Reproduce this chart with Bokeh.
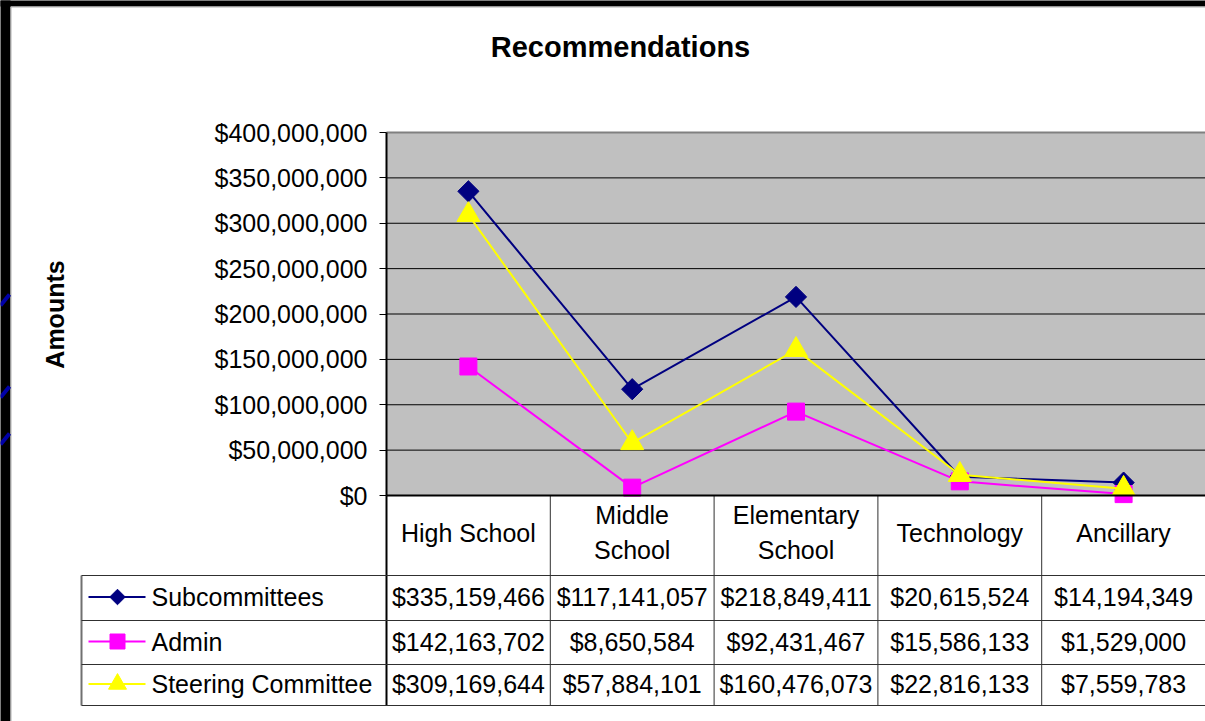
import numpy as np
from bokeh.plotting import figure
from bokeh.models import Range1d, NumeralTickFormatter, FixedTicker, LinearAxis
from bokeh.core.properties import value
from bokeh.embed import file_html
from bokeh.resources import INLINE

# ---------------- data ----------------
title_text = "Recommendations"
y_label = "Amounts"
categories = ["High School", "Middle School", "Elementary School", "Technology", "Ancillary"]
category_labels = ["High School", "Middle\nSchool", "Elementary\nSchool", "Technology", "Ancillary"]
series_names = ["Subcommittees", "Admin", "Steering Committee"]
subcommittees = [335159466, 117141057, 218849411, 20615524, 14194349]
admin = [142163702, 8650584, 92431467, 15586133, 1529000]
steering = [309169644, 57884101, 160476073, 22816133, 7559783]
y_ticks = [0, 50000000, 100000000, 150000000, 200000000, 250000000, 300000000, 350000000, 400000000]

# ---------------- layout constants (pixels) ----------------
FONT = "Liberation Sans"
W, H = 1205, 721
PLOT_L, PLOT_T, PLOT_B = 386, 132, 495
ncat = len(categories)
UNIT = (W - PLOT_L) / ncat                 # pixels per category
Y_MAX = y_ticks[-1]
K = Y_MAX / (PLOT_B - PLOT_T)              # dollars per pixel
ROW_EDGES = [0, 80, 125, 169, 210]         # table rows, pixels below plot bottom
LEGEND_L = 81


def px_x(px):
    return (px - PLOT_L) / UNIT


def px_y(py):
    return py - PLOT_B


styles = [
    dict(color="#000080", marker="square", angle=np.pi / 4, size=15, lsize=11),
    dict(color="#FF00FF", marker="square", angle=0.0, size=17, lsize=15),
    dict(color="#FFFF00", marker="triangle", angle=0.0, size=23, lsize=18),
]
series_values = [subcommittees, admin, steering]

p = figure(width=W, height=H,
           x_range=Range1d(px_x(0), ncat),
           y_range=Range1d(-(H - PLOT_B) * K, Y_MAX + PLOT_T * K),
           x_axis_location=None, y_axis_location=None,
           output_backend="svg", toolbar_location=None, min_border=0)
p.extra_y_ranges = {"tbl": Range1d(H - PLOT_B, -PLOT_B)}
p.xgrid.visible = False
p.ygrid.visible = False
p.outline_line_color = None
p.background_fill_color = "white"
p.border_fill_color = "white"

# slide frame (black edges with blue stripes)
p.quad(left=[px_x(-20), px_x(-20)], right=[px_x(10), px_x(W + 20)],
       bottom=[px_y(H + 20), px_y(6)], top=[px_y(-20), px_y(-20)],
       y_range_name="tbl", fill_color="black", line_color=None)
p.segment(x0=[px_x(10.5), px_x(10.5)], y0=[px_y(6.5), px_y(6.5)],
          x1=[px_x(10.5), px_x(W + 20)], y1=[px_y(H + 20), px_y(6.5)],
          y_range_name="tbl", line_color="#B0B0B0", line_width=1)
stripe_y = [305, 397, 444]
p.segment(x0=[px_x(0)] * 3, y0=[px_y(v) for v in stripe_y],
          x1=[px_x(9)] * 3, y1=[px_y(v - 11) for v in stripe_y],
          y_range_name="tbl", line_color="#0000A8", line_width=4)

# plot area background
p.quad(left=[0], right=[ncat], bottom=[0], top=[Y_MAX], fill_color="#C0C0C0", line_color=None)
# grid lines
inner = y_ticks[1:-1]
p.segment(x0=[0] * len(inner), y0=inner, x1=[ncat] * len(inner), y1=inner,
          line_color="black", line_width=1)
p.segment(x0=[0], y0=[Y_MAX], x1=[ncat], y1=[Y_MAX], line_color="#808080", line_width=2)

# y axis
yax = LinearAxis(ticker=FixedTicker(ticks=y_ticks),
                 formatter=NumeralTickFormatter(format="$0,0"),
                 fixed_location=0, bounds=(0, Y_MAX))
yax.major_label_text_font = FONT
yax.major_label_text_font_size = "25px"
yax.major_label_text_color = "black"
yax.major_tick_out = 7
yax.major_tick_in = 0
yax.minor_tick_out = 0
yax.minor_tick_in = 0
yax.major_label_standoff = 12
yax.axis_line_width = 2
yax.axis_line_color = "black"
yax.major_tick_line_color = "black"
yax.major_tick_line_width = 1
p.add_layout(yax, "left")

# title and axis label
p.text(x=[px_x(620)], y=[px_y(46)], y_range_name="tbl", text=[title_text],
       text_align="center", text_baseline="middle", text_font=value(FONT),
       text_font_size="29px", text_font_style="bold", text_color="black")
p.text(x=[px_x(54)], y=[px_y(314)], y_range_name="tbl", text=[y_label], angle=np.pi / 2,
       text_align="center", text_baseline="middle", text_font=value(FONT),
       text_font_size="25px", text_font_style="bold", text_color="black")

# series
xs = [i + 0.5 for i in range(ncat)]
for vals, st in zip(series_values, styles):
    p.line(x=xs, y=vals, line_color=st["color"], line_width=2)
    p.scatter(x=xs, y=vals, marker=st["marker"], angle=st["angle"],
              size=st["size"], fill_color=st["color"], line_color=st["color"])

# ---------------- data table ----------------
LINE_C = "#303030"
vx = list(range(ncat + 1))
p.segment(x0=vx, y0=[ROW_EDGES[0]] * len(vx), x1=vx, y1=[ROW_EDGES[-1]] * len(vx),
          y_range_name="tbl", line_color=LINE_C, line_width=1)
p.segment(x0=[0], y0=[0], x1=[0], y1=[ROW_EDGES[-1]], y_range_name="tbl",
          line_color="black", line_width=2)
p.segment(x0=[px_x(LEGEND_L)], y0=[ROW_EDGES[1]], x1=[px_x(LEGEND_L)], y1=[ROW_EDGES[-1]],
          y_range_name="tbl", line_color="#707070", line_width=2)
hy = ROW_EDGES[1:]
p.segment(x0=[px_x(LEGEND_L)] * len(hy), y0=hy, x1=[ncat] * len(hy), y1=hy,
          y_range_name="tbl", line_color=LINE_C, line_width=1)
p.segment(x0=[0], y0=[0], x1=[ncat], y1=[0], y_range_name="tbl",
          line_color="black", line_width=2)

p.text(x=xs, y=[(ROW_EDGES[0] + ROW_EDGES[1]) / 2 - 3] * ncat, y_range_name="tbl",
       text=category_labels, text_align="center", text_baseline="middle",
       text_font=value(FONT), text_font_size="25px", text_color="black",
       text_line_height=1.25)

for r, (name, vals, st) in enumerate(zip(series_names, series_values, styles)):
    yc = (ROW_EDGES[r + 1] + ROW_EDGES[r + 2]) / 2 - 1
    p.text(x=xs, y=[yc] * ncat, y_range_name="tbl", text=[f"${v:,}" for v in vals],
           text_align="center", text_baseline="middle", text_font=value(FONT),
           text_font_size="25px", text_color="black")
    p.segment(x0=[px_x(88)], y0=[yc], x1=[px_x(145)], y1=[yc], y_range_name="tbl",
              line_color=st["color"], line_width=2)
    p.scatter(x=[px_x(117)], y=[yc], y_range_name="tbl", marker=st["marker"],
              angle=st["angle"], size=st["lsize"],
              fill_color=st["color"], line_color=st["color"])
    p.text(x=[px_x(151)], y=[yc], y_range_name="tbl", text=[name],
           text_align="left", text_baseline="middle",
           text_font=value(FONT), text_font_size="25px", text_color="black")

open("out.html", "w").write(file_html(p, INLINE))
